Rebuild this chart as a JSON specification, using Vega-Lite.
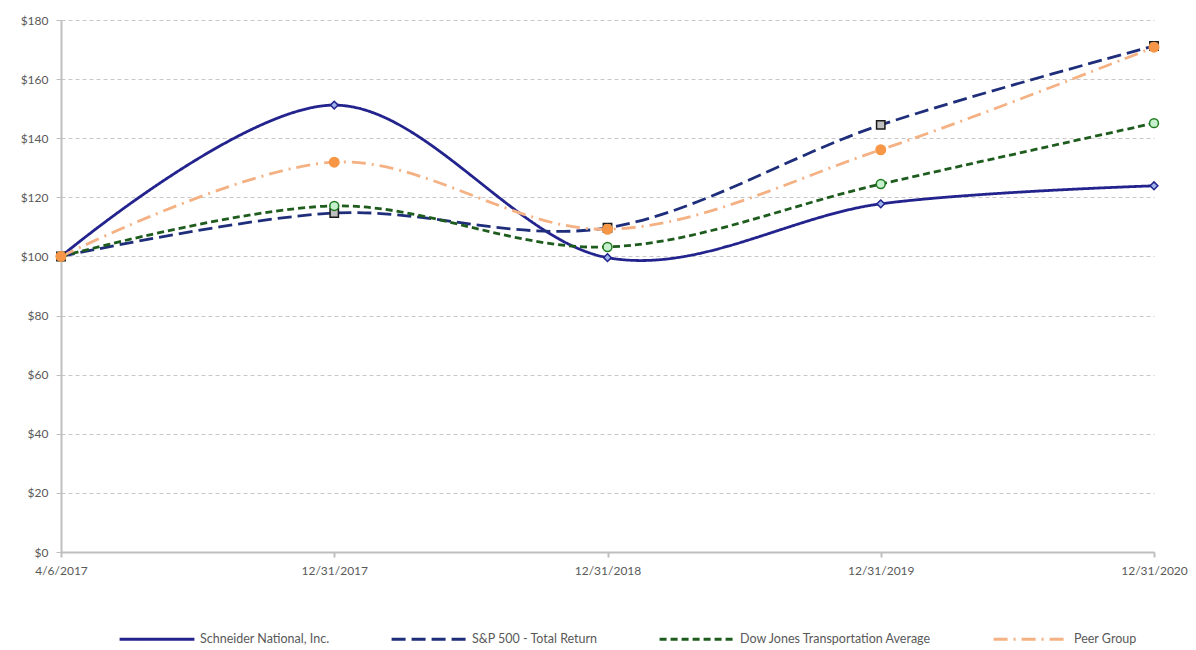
{
  "$schema": "https://vega.github.io/schema/vega-lite/v6.json",
  "autosize": {"type": "none"},
  "width": 1093,
  "height": 532,
  "padding": {"left": 61, "top": 20, "right": 42, "bottom": 98},
  "background": "white",
  "config": {
    "font": "Lato",
    "view": {"stroke": null},
    "axis": {"labelFont": "Lato", "labelColor": "#595959", "labelFontSize": 12}
  },
  "data": {
    "values": [
      {"date": "4/6/2017", "series": "Schneider National, Inc.", "value": 100},
      {"date": "12/31/2017", "series": "Schneider National, Inc.", "value": 151.2},
      {"date": "12/31/2018", "series": "Schneider National, Inc.", "value": 99.6},
      {"date": "12/31/2019", "series": "Schneider National, Inc.", "value": 117.8},
      {"date": "12/31/2020", "series": "Schneider National, Inc.", "value": 123.9},
      {"date": "4/6/2017", "series": "S&P 500 - Total Return", "value": 100},
      {"date": "12/31/2017", "series": "S&P 500 - Total Return", "value": 114.7},
      {"date": "12/31/2018", "series": "S&P 500 - Total Return", "value": 109.7},
      {"date": "12/31/2019", "series": "S&P 500 - Total Return", "value": 144.5},
      {"date": "12/31/2020", "series": "S&P 500 - Total Return", "value": 171.2},
      {"date": "4/6/2017", "series": "Dow Jones Transportation Average", "value": 100},
      {"date": "12/31/2017", "series": "Dow Jones Transportation Average", "value": 117.1},
      {"date": "12/31/2018", "series": "Dow Jones Transportation Average", "value": 103.2},
      {"date": "12/31/2019", "series": "Dow Jones Transportation Average", "value": 124.5},
      {"date": "12/31/2020", "series": "Dow Jones Transportation Average", "value": 145.1},
      {"date": "4/6/2017", "series": "Peer Group", "value": 100},
      {"date": "12/31/2017", "series": "Peer Group", "value": 131.9},
      {"date": "12/31/2018", "series": "Peer Group", "value": 109.2},
      {"date": "12/31/2019", "series": "Peer Group", "value": 136.1},
      {"date": "12/31/2020", "series": "Peer Group", "value": 170.8}
    ]
  },
  "encoding": {
    "x": {
      "field": "date", "type": "ordinal",
      "sort": ["4/6/2017", "12/31/2017", "12/31/2018", "12/31/2019", "12/31/2020"],
      "scale": {"type": "point", "padding": 0},
      "axis": {
        "title": null, "labelAngle": 0, "domainColor": "#BFBFBF", "domainWidth": 2,
        "tickColor": "#BFBFBF", "tickSize": 5, "tickWidth": 2, "labelPadding": 8,
        "labelOverlap": false, "labelBound": false, "grid": false
      }
    },
    "y": {
      "field": "value", "type": "quantitative",
      "scale": {"domain": [0, 180], "nice": false},
      "axis": {
        "title": null, "values": [0, 20, 40, 60, 80, 100, 120, 140, 160, 180],
        "format": "$,.0f", "domainColor": "#BFBFBF", "domainWidth": 2,
        "tickColor": "#BFBFBF", "tickSize": 5, "tickWidth": 1, "labelPadding": 8,
        "grid": true, "gridColor": "#C8C8C8", "gridDash": [4, 3], "gridWidth": 1
      }
    }
  },
  "resolve": {
    "scale": {"shape": "independent", "fill": "independent", "stroke": "independent", "size": "independent"},
    "legend": {"shape": "independent", "fill": "independent", "stroke": "independent", "size": "independent"}
  },
  "layer": [
    {
      "mark": {"type": "line", "interpolate": "cardinal", "strokeWidth": 2.8},
      "encoding": {
        "color": {
          "field": "series", "type": "nominal",
          "scale": {
            "domain": ["Schneider National, Inc.", "S&P 500 - Total Return", "Dow Jones Transportation Average", "Peer Group"],
            "range": ["#23238E", "#1F2E7A", "#1E5C1E", "#F4B183"]
          },
          "legend": {
            "title": null, "orient": "none", "legendX": 57, "legendY": 580,
            "direction": "horizontal", "columns": 4, "columnPadding": 55,
            "symbolType": "stroke", "symbolSize": 5600, "symbolStrokeWidth": 2.8,
            "labelFont": "Lato", "labelFontSize": 12.5, "labelColor": "#595959", "labelLimit": 400
          }
        },
        "strokeDash": {
          "field": "series", "type": "nominal",
          "scale": {
            "domain": ["Schneider National, Inc.", "S&P 500 - Total Return", "Dow Jones Transportation Average", "Peer Group"],
            "range": [[1, 0], [14, 6], [7, 4], [14, 6, 2, 6]]
          }
        },
        "order": {"value": 0}
      }
    },
    {
      "mark": {"type": "point", "filled": true, "strokeWidth": 1.5, "opacity": 1},
      "encoding": {
        "shape": {
          "field": "series", "type": "nominal",
          "scale": {
            "domain": ["Schneider National, Inc.", "S&P 500 - Total Return", "Dow Jones Transportation Average", "Peer Group"],
            "range": ["diamond", "square", "circle", "circle"]
          },
          "legend": null
        },
        "fill": {
          "field": "series", "type": "nominal",
          "scale": {
            "domain": ["Schneider National, Inc.", "S&P 500 - Total Return", "Dow Jones Transportation Average", "Peer Group"],
            "range": ["#9DB5E8", "#BFBFBF", "#C6EFCE", "#F79646"]
          },
          "legend": null
        },
        "stroke": {
          "field": "series", "type": "nominal",
          "scale": {
            "domain": ["Schneider National, Inc.", "S&P 500 - Total Return", "Dow Jones Transportation Average", "Peer Group"],
            "range": ["#23238E", "#1A1A1A", "#1E7A1E", "#F79646"]
          },
          "legend": null
        },
        "size": {
          "field": "series", "type": "nominal",
          "scale": {
            "domain": ["Schneider National, Inc.", "S&P 500 - Total Return", "Dow Jones Transportation Average", "Peer Group"],
            "range": [60, 90, 100, 100]
          },
          "legend": null
        }
      }
    }
  ]
}
